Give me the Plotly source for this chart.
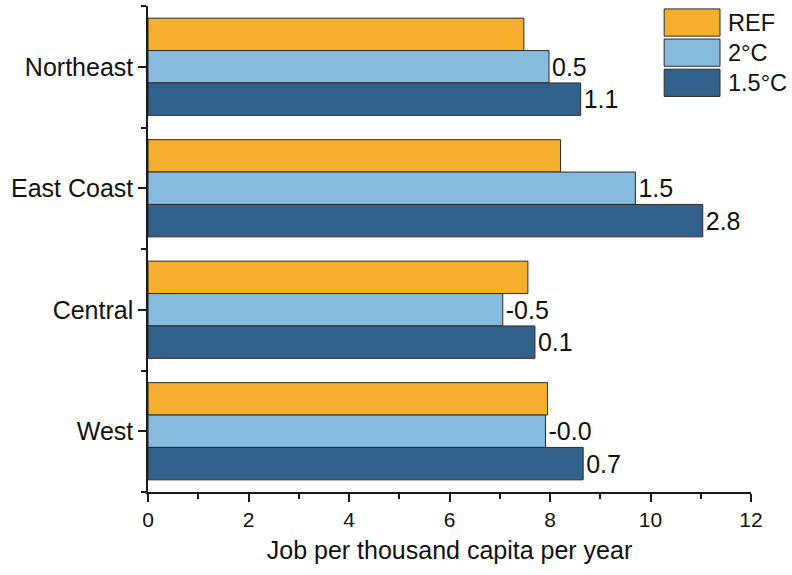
import plotly.graph_objects as go

# Regions, top to bottom
regions = ["Northeast", "East Coast", "Central", "West"]

# Jobs per thousand capita per year, by scenario
ref_vals = [7.48, 8.21, 7.56, 7.95]
c20_vals = [7.98, 9.70, 7.06, 7.91]
c15_vals = [8.61, 11.04, 7.70, 8.66]

series_names = ["REF", "2°C", "1.5°C"]
series_colors = ["#F6AE2D", "#86BBDD", "#32628C"]

x_ticks = [0, 2, 4, 6, 8, 10, 12]

FONT = "Liberation Sans, Arial, sans-serif"
positions = list(range(len(regions)))


def diff_labels(vals):
    return [f"{v - r:.1f}" for v, r in zip(vals, ref_vals)]


fig = go.Figure()
for name, vals, color, labels in [
    (series_names[0], ref_vals, series_colors[0], None),
    (series_names[1], c20_vals, series_colors[1], diff_labels(c20_vals)),
    (series_names[2], c15_vals, series_colors[2], diff_labels(c15_vals)),
]:
    fig.add_trace(go.Bar(
        y=positions,
        x=vals,
        name=name,
        orientation="h",
        marker=dict(color=color, line=dict(color="#2b2b2b", width=1)),
        text=labels,
        textposition="outside" if labels else "none",
        textfont=dict(family=FONT, size=25, color="#111111"),
        constraintext="none",
        cliponaxis=False,
        showlegend=False,
    ))

# Legend drawn as large swatches with labels
sw_x0, sw_x1 = 0.856, 0.9486
sw_tops = [0.994, 0.932, 0.870]
sw_h = 0.056
shapes = []
annotations = []
for name, color, top in zip(series_names, series_colors, sw_tops):
    shapes.append(dict(
        type="rect", xref="paper", yref="paper",
        x0=sw_x0, x1=sw_x1, y0=top - sw_h, y1=top,
        fillcolor=color, line=dict(color="#2b2b2b", width=1),
    ))
    annotations.append(dict(
        xref="paper", yref="paper", x=0.958, y=top - sw_h / 2,
        text=name, showarrow=False, xanchor="left", yanchor="middle",
        font=dict(family=FONT, size=23.5, color="#111111"),
    ))

fig.update_layout(
    width=792,
    height=575,
    margin=dict(l=148, r=41, t=6, b=83),
    paper_bgcolor="white",
    plot_bgcolor="white",
    barmode="group",
    bargap=0.2,
    bargroupgap=0,
    showlegend=False,
    font=dict(family=FONT, color="#111111"),
    shapes=shapes,
    annotations=annotations,
    xaxis=dict(
        range=[0, 12],
        tickvals=x_ticks,
        ticktext=[str(t) for t in x_ticks],
        ticks="outside",
        ticklen=8,
        tickwidth=1.5,
        tickcolor="#1a1a1a",
        minor=dict(tickvals=[1, 3, 5, 7, 9, 11], ticks="outside",
                   ticklen=5, tickwidth=1.5, tickcolor="#1a1a1a"),
        showline=True,
        linecolor="#1a1a1a",
        linewidth=1.5,
        showgrid=False,
        zeroline=False,
        tickfont=dict(family=FONT, size=21, color="#111111"),
        title=dict(text="Job per thousand capita per year",
                   font=dict(family=FONT, size=25, color="#111111"),
                   standoff=12),
        automargin=False,
    ),
    yaxis=dict(
        range=[3.5, -0.5],
        tickvals=positions,
        ticktext=regions,
        ticks="outside",
        ticklen=8,
        tickwidth=1.5,
        tickcolor="#1a1a1a",
        minor=dict(tickvals=[-0.5, 0.5, 1.5, 2.5, 3.5], ticks="outside",
                   ticklen=5, tickwidth=1.5, tickcolor="#1a1a1a"),
        showline=True,
        linecolor="#1a1a1a",
        linewidth=1.5,
        showgrid=False,
        zeroline=False,
        tickfont=dict(family=FONT, size=25, color="#111111"),
        automargin=False,
    ),
)

fig.write_html("out.html")
